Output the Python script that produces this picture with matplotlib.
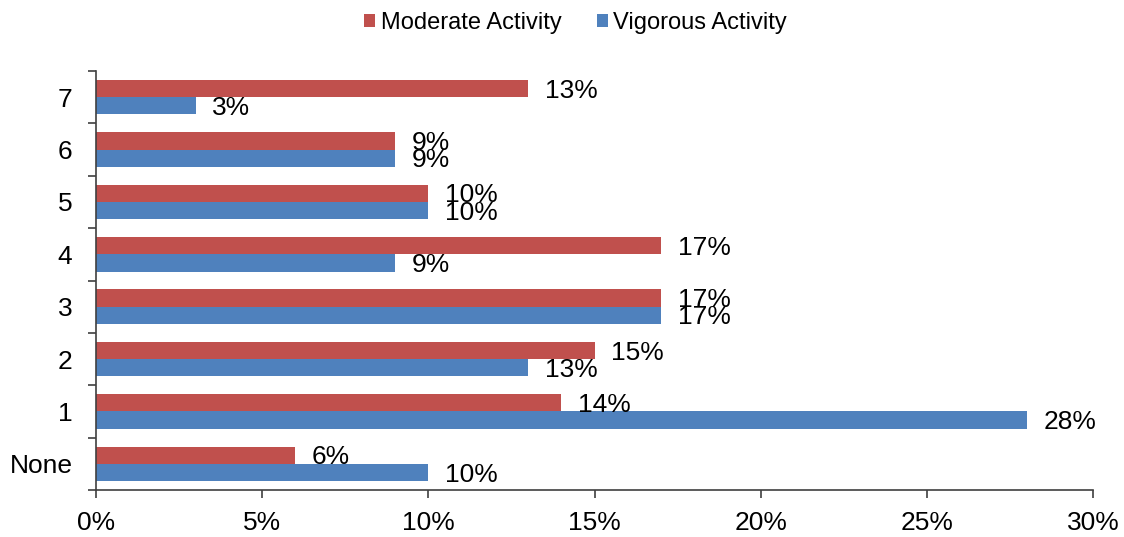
import matplotlib
matplotlib.use("Agg")
import matplotlib.pyplot as plt
import numpy as np
from matplotlib.ticker import FuncFormatter, FixedLocator

categories = ["None", "1", "2", "3", "4", "5", "6", "7"]
moderate = [6, 14, 15, 17, 17, 10, 9, 13]
vigorous = [10, 28, 13, 17, 9, 10, 9, 3]
xticks = [0, 5, 10, 15, 20, 25, 30]

red = "#C0504D"
blue = "#4F81BD"

plt.rcParams['font.family'] = ['Liberation Sans', 'DejaVu Sans']

fig = plt.figure(figsize=(11.24, 5.37), dpi=100)
ax = fig.add_axes([96/1124, 1-490/537, (1093-96)/1124, (490-71)/537])

y = np.arange(len(categories))
h = 0.33
b1 = ax.barh(y + h/2, moderate, height=h, color=red, label="Moderate Activity")
b2 = ax.barh(y - h/2, vigorous, height=h, color=blue, label="Vigorous Activity")

for bars, vals in ((b1, moderate), (b2, vigorous)):
    for rect, v in zip(bars, vals):
        ax.annotate(f"{v}%", (rect.get_width(), rect.get_y() + rect.get_height()/2),
                    xytext=(12, -1.5), textcoords="offset points",
                    ha="left", va="center", fontsize=19, color="black")

ax.set_xlim(0, 30)
ax.set_ylim(-0.5, len(categories) - 0.5)
ax.set_xticks(xticks)
ax.xaxis.set_major_formatter(FuncFormatter(lambda v, p: f"{int(v)}%"))
ax.set_yticks(y)
ax.set_yticklabels(categories)
ax.yaxis.set_minor_locator(FixedLocator(np.arange(-0.5, len(categories), 1)))
ax.tick_params(axis="y", which="major", length=0, labelsize=19, pad=17)
ax.tick_params(axis="y", which="minor", length=6, width=1.2, color="#404040")
ax.tick_params(axis="x", which="major", length=6, width=1.2, color="#404040", labelsize=19, pad=9)

for s in ("top", "right"):
    ax.spines[s].set_visible(False)
for s in ("left", "bottom"):
    ax.spines[s].set_color("#404040")
    ax.spines[s].set_linewidth(1.2)

leg = fig.legend(handles=[b1, b2], loc="upper center", bbox_to_anchor=(0.512, 1.018),
                 ncol=2, frameon=False, fontsize=17, handlelength=0.47, handleheight=0.47,
                 handletextpad=0.22, columnspacing=1.5)

fig.savefig("out.png", dpi=100)
